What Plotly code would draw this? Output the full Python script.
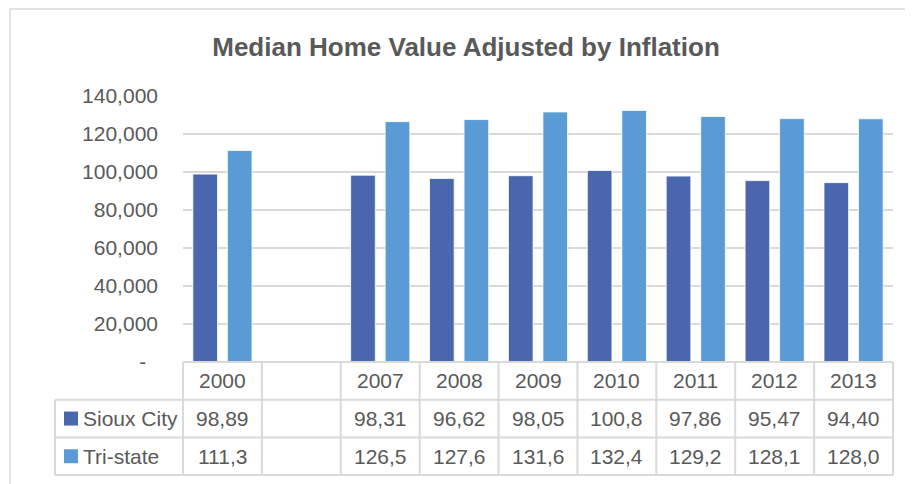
import plotly.graph_objects as go

# Median home value adjusted by inflation
years = ['2000', '', '2007', '2008', '2009', '2010', '2011', '2012', '2013']
sioux_city = [98890, None, 98310, 96620, 98050, 100800, 97860, 95470, 94400]
tri_state = [111300, None, 126500, 127600, 131600, 132400, 129200, 128100, 128000]
series_names = ['Sioux City', 'Tri-state']
y_ticks = [0, 20000, 40000, 60000, 80000, 100000, 120000, 140000]

SIOUX_COLOR = '#4A66AC'
TRI_COLOR = '#5B9BD5'
TEXT_COLOR = '#595959'
LINE_COLOR = '#D9D9D9'
FONT = 'Liberation Sans, Arial, sans-serif'

# the page body adds an 8px margin, so work in screen pixels minus that
OFF = 8
W, H = 913, 484
L = 183 - OFF
T = 96 - OFF
R = W - (893 - OFF)
B = H - (362 - OFF)
PW, PH = W - L - R, H - T - B
ROW = 37.7 / PH          # table row height in paper units


def px_x(p):
    return (p - OFF - L) / PW


def px_y(p):
    return (H - B - (p - OFF)) / PH


LEG_LEFT = px_x(55)  # left edge of the legend column


def cell_text(v):
    # the data table cuts the numbers off at the cell width
    return '' if v is None else f'{v:,}'[:5]


x_pos = list(range(len(years)))

fig = go.Figure()
fig.add_trace(go.Bar(x=x_pos, y=sioux_city, name=series_names[0],
                     marker=dict(color=SIOUX_COLOR, line=dict(color='white', width=0.8))))
fig.add_trace(go.Bar(x=x_pos, y=tri_state, name=series_names[1],
                     marker=dict(color=TRI_COLOR, line=dict(color='white', width=0.8))))

shapes = []
annotations = []

# chart area border (left and top visible)
shapes.append(dict(type='rect', xref='paper', yref='paper',
                   x0=px_x(10), x1=px_x(1000), y0=px_y(9), y1=px_y(600),
                   line=dict(color=LINE_COLOR, width=1.5)))

# data table: horizontal lines
shapes.append(dict(type='line', xref='paper', yref='paper', x0=0, x1=1, y0=0, y1=0,
                   line=dict(color=LINE_COLOR, width=2)))
for r in (1, 2, 3):
    shapes.append(dict(type='line', xref='paper', yref='paper', x0=LEG_LEFT, x1=1,
                       y0=-r * ROW, y1=-r * ROW, line=dict(color=LINE_COLOR, width=2)))

# data table: vertical lines
for xp in (0, 1):
    shapes.append(dict(type='line', xref='paper', yref='paper', x0=xp, x1=xp,
                       y0=0, y1=-3 * ROW, line=dict(color=LINE_COLOR, width=2)))
shapes.append(dict(type='line', xref='paper', yref='paper', x0=LEG_LEFT, x1=LEG_LEFT,
                   y0=-ROW, y1=-3 * ROW, line=dict(color=LINE_COLOR, width=2)))
for i in x_pos[1:]:
    shapes.append(dict(type='line', xref='x', yref='paper', x0=i - 0.5, x1=i - 0.5,
                       y0=0, y1=-3 * ROW, line=dict(color=LINE_COLOR, width=2)))

# table cells
cell_font = dict(family=FONT, size=21, color=TEXT_COLOR)
for i, yr in enumerate(years):
    row_texts = [yr, cell_text(sioux_city[i]), cell_text(tri_state[i])]
    for r, txt in enumerate(row_texts):
        annotations.append(dict(x=i, y=-(r + 0.5) * ROW, xref='x', yref='paper', text=txt,
                                xanchor='center', yanchor='middle',
                                showarrow=False, font=cell_font))

# legend keys in the table
for r, (name, color) in enumerate(zip(series_names, [SIOUX_COLOR, TRI_COLOR])):
    yc = -(r + 1.5) * ROW
    half = 7 / PH
    shapes.append(dict(type='rect', xref='paper', yref='paper',
                       x0=px_x(64), x1=px_x(78), y0=yc - half, y1=yc + half,
                       fillcolor=color, line=dict(width=0)))
    annotations.append(dict(x=px_x(81), y=yc, xref='paper', yref='paper', text=name,
                            xanchor='left', yanchor='middle', showarrow=False, font=cell_font))

tick_text = ['-\u00a0\u00a0' if v == 0 else f'{v:,}' for v in y_ticks]

fig.update_layout(
    width=W, height=H,
    margin=dict(l=L, r=R, t=T, b=B, autoexpand=False),
    paper_bgcolor='white', plot_bgcolor='white',
    title=dict(text='<b>Median Home Value Adjusted by Inflation</b>',
               x=(466 - OFF) / W, xanchor='center', xref='container',
               y=1 - (47 - OFF) / H, yanchor='middle',
               font=dict(family=FONT, size=26, color=TEXT_COLOR)),
    barmode='group', bargap=0.125, bargroupgap=0.2857,
    showlegend=False,
    xaxis=dict(range=[-0.5, len(years) - 0.5], showticklabels=False,
               showgrid=False, zeroline=False, showline=False, automargin=False),
    yaxis=dict(range=[0, 140000], tickvals=y_ticks, ticktext=tick_text,
               showgrid=True, gridcolor=LINE_COLOR, gridwidth=1.5, automargin=False,
               zeroline=False, showline=False, ticklabelstandoff=24,
               tickfont=dict(family=FONT, size=21, color=TEXT_COLOR)),
    shapes=shapes,
    annotations=annotations,
)

fig.write_html("out.html")
